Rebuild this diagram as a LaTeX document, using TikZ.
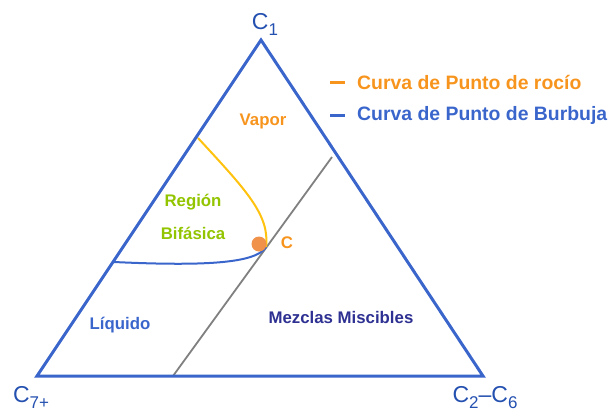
\documentclass[tikz,border=0pt]{standalone}
\usepackage{fontspec}
\setmainfont{Liberation Sans}
\usetikzlibrary{positioning}
\usetikzlibrary{calc}

\definecolor{edgeblue}{HTML}{3A66CC}
\definecolor{cornerblue}{HTML}{2450B0}
\definecolor{dewyellow}{HTML}{FFC20E}
\definecolor{textorange}{HTML}{F7941D}
\definecolor{dotorange}{HTML}{F0924A}
\definecolor{regiongreen}{HTML}{92C400}
\definecolor{mixnavy}{HTML}{2E3192}

\newcommand{\sub}[1]{\raisebox{-6pt}{\fontsize{17}{17}\selectfont #1}}

\tikzset{
  corner/.style={text=cornerblue, font=\fontsize{23}{23}\selectfont, inner sep=0pt},
  zone/.style={font=\fontsize{16.8}{18}\selectfont\bfseries, inner sep=0pt},
  legend/.style={font=\fontsize{19.4}{20}\selectfont\bfseries, inner sep=0pt, anchor=west}
}

\begin{document}
\begin{tikzpicture}[x=1pt, y=-1pt]
  \useasboundingbox (0,0) rectangle (613,416);
  % vertices of the triangle
  \coordinate (T) at (261,40);
  \coordinate (L) at (37,376);
  \coordinate (R) at (483,376);
  % miscibility line and critical point
  \coordinate (G1) at (173,376);
  \coordinate (G2) at (332,157);
  \coordinate (cp) at (266,247);
  \coordinate (D1) at (198,138);
  \coordinate (B1) at (114,262);

  \draw[gray, line width=1.8pt] (G1) -- (G2);
  \draw[dewyellow, line width=2pt]
        (D1) .. controls (246,190) and (270,215) .. (cp);
  \draw[edgeblue, line width=2pt]
        (B1) .. controls (200,266) and (256,264) .. (cp);
  \draw[edgeblue, line width=3pt, line join=miter] (T) -- (L) -- (R) -- cycle;
  \fill[dotorange] (259,244) circle (7.5pt);

  \node[corner] (c1) at (265,24) {C\sub{1}};
  \node[corner] (c7) at (31,397) {C\sub{7+}};
  \node[corner] (c26) at (485,398) {C\sub{2}–C\sub{6}};

  \node[zone, text=textorange] (vap) at (263,121) {Vapor};
  \node[zone, text=regiongreen] (reg) at (193,202) {Región};
  \node[zone, text=regiongreen] (bif) at (193,233) {Bifásica};
  \node[zone, text=textorange] (crit) at (287,243) {C};
  \node[zone, text=edgeblue] (liq) at (120,325) {Líquido};
  \node[zone, text=mixnavy] (mix) at (341,317) {Mezclas Miscibles};

  % legend
  \coordinate (k1) at (330,82);
  \coordinate (k2) at (330,115);
  \draw[textorange, line width=3pt] (k1) -- ++(15,0) coordinate (k1e);
  \draw[edgeblue, line width=3pt] (k2) -- ++(15,0) coordinate (k2e);
  \node[legend, text=textorange, right=12pt of k1e] (dew) {Curva de Punto de rocío};
  \node[legend, text=edgeblue, right=12pt of k2e] (bub) {Curva de Punto de Burbuja};
\end{tikzpicture}
\end{document}
